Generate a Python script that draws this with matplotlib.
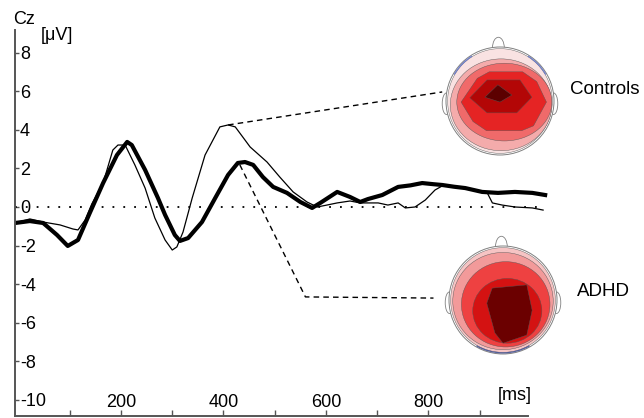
import matplotlib.pyplot as plt
from matplotlib.patches import Ellipse, Polygon, Circle, Arc

plt.rcParams['font.family'] = ['Liberation Sans', 'DejaVu Sans']
plt.rcParams['axes.unicode_minus'] = False

W, H = 644, 418

# ERP at Cz (ms, microvolt)
controls_ms = [-7, 22, 48, 81, 106, 116, 130, 143, 165, 184, 194, 208, 227, 247, 266, 286,
               300, 309, 321, 339, 364, 393, 409, 423, 442, 452, 485, 510, 536, 563, 583,
               602, 622, 647, 667, 702, 721, 741, 755, 774, 794, 813, 827, 850, 872, 895,
               915, 925, 944, 969, 1003, 1024]
controls_uv = [-0.83, -0.62, -0.78, -0.93, -1.14, -1.19, -0.67, 0.16, 1.24, 2.95, 3.21, 3.21,
               2.18, 0.98, -0.57, -1.71, -2.23, -2.07, -1.30, 0.47, 2.69, 4.15, 4.25, 4.15,
               3.47, 3.11, 2.33, 1.55, 0.78, 0.26, 0.0, 0.10, 0.21, 0.31, 0.21, 0.21, 0.10,
               0.21, -0.05, 0.0, 0.36, 0.88, 1.09, 1.05, 0.98, 0.85, 0.73, 0.21, 0.10, 0.0,
               -0.05, -0.16]

adhd_ms = [-7, 22, 48, 75, 96, 116, 139, 165, 192, 212, 221, 247, 272, 286, 305, 315, 331,
           358, 384, 409, 428, 442, 458, 477, 497, 524, 550, 573, 589, 622, 647, 667, 682,
           710, 741, 765, 788, 810, 827, 850, 872, 905, 936, 969, 1003, 1028]
adhd_uv = [-0.83, -0.73, -0.83, -1.45, -2.02, -1.71, -0.31, 1.24, 2.69, 3.37, 3.21, 1.92,
           0.47, -0.41, -1.45, -1.76, -1.61, -0.78, 0.47, 1.66, 2.28, 2.33, 2.18, 1.55, 1.04,
           0.73, 0.26, -0.05, 0.21, 0.78, 0.52, 0.26, 0.41, 0.62, 1.04, 1.12, 1.24, 1.18,
           1.14, 1.05, 0.98, 0.78, 0.73, 0.78, 0.73, 0.62]

yticks = list(range(-10, 9, 2))
xticks = list(range(100, 1000, 100))
xticklabels = ['' if t % 200 else str(t) for t in xticks]

# dashed links from the peaks to the maps
controls_link_ms = [409, 827]
controls_link_uv = [4.25, 5.96]
adhd_link_ms = [432, 560, 810]
adhd_link_uv = [2.18, -4.66, -4.72]

# scalp maps, head radius = 1: (shape, geometry, colour)
controls_topo = [
    ('ellipse', (0.0, 0.0, 0.97, 0.97), '#f9e2e2'),
    ('ellipse', (0.02, -0.07, 0.94, 0.85), '#f4abab'),
    ('ellipse', (0.08, -0.02, 0.88, 0.72), '#f06a6a'),
    ('poly', [(-0.72, -0.02), (-0.42, 0.42), (-0.2, 0.54), (0.42, 0.54), (0.68, 0.36),
              (0.86, -0.02), (0.62, -0.46), (0.4, -0.55), (-0.25, -0.55), (-0.5, -0.38)], '#e52424'),
    ('poly', [(-0.56, 0.06), (-0.24, 0.39), (0.37, 0.39), (0.59, 0.07), (0.31, -0.22), (-0.24, -0.22)], '#b30606'),
    ('poly', [(-0.28, 0.07), (-0.04, 0.30), (0.22, 0.11), (0.0, -0.02)], '#5c0000'),
]
adhd_topo = [
    ('ellipse', (0.0, 0.0, 0.97, 0.97), '#f6c4c4'),
    ('ellipse', (0.0, -0.02, 0.93, 0.9), '#f29a9a'),
    ('ellipse', (0.05, -0.08, 0.82, 0.79), '#ee4141'),
    ('ellipse', (0.08, -0.2, 0.64, 0.6), '#d41212'),
    ('poly', [(-0.2, 0.22), (0.44, 0.28), (0.54, -0.19), (0.44, -0.65), (0.0, -0.8), (-0.15, -0.61), (-0.3, -0.06)], '#6b0000'),
]


def draw_head(cx, cy, r, topo, blue_arcs):
    half = 1.35 * r
    hx = fig.add_axes([(cx - half) / W, 1 - (cy + half) / H, 2 * half / W, 2 * half / H])
    hx.set_xlim(-1.35, 1.35)
    hx.set_ylim(-1.35, 1.35)
    hx.axis('off')
    edge = '#808080'
    # nose and ears
    hx.add_patch(Ellipse((-0.03, 0.98), 0.22, 0.4, facecolor='white', edgecolor=edge, lw=0.6))
    for sx in (-1, 1):
        hx.add_patch(Ellipse((sx * 0.99, -0.05), 0.16, 0.4, facecolor='white', edgecolor=edge, lw=0.6))
    hx.add_patch(Circle((0, 0), 1.0, facecolor='white', edgecolor='none'))
    for shape, geom, col in topo:
        if shape == 'ellipse':
            x0, y0, rx, ry = geom
            p = Ellipse((x0, y0), 2 * rx, 2 * ry)
        else:
            p = Polygon(geom, closed=True)
        p.set_facecolor(col)
        p.set_edgecolor('#555555')
        p.set_linewidth(0.3)
        hx.add_patch(p)
    hx.add_patch(Circle((0, 0), 1.0, facecolor='none', edgecolor=edge, lw=0.7))
    for t1, t2, col in blue_arcs:
        hx.add_patch(Arc((0, 0), 1.96, 1.96, theta1=t1, theta2=t2, color=col, lw=0.9, alpha=0.8))


fig = plt.figure(figsize=(W / 100, H / 100), dpi=100)
ax = fig.add_axes([15 / W, 1 - 416 / H, 545 / W, 386 / H])
ax.set_xlim(-7, 1057)
ax.set_ylim(-10.83, 9.17)
ax.patch.set_alpha(0)

ax.hlines(0, -7, 1028, colors='black', linestyles=(0, (1, 5)), lw=1.3)
ax.plot(controls_ms, controls_uv, color='black', lw=0.9)
ax.plot(adhd_ms, adhd_uv, color='black', lw=3.0, solid_joinstyle='round')
ax.plot(controls_link_ms, controls_link_uv, color='black', lw=1.0, ls=(0, (4, 3)))
ax.plot(adhd_link_ms, adhd_link_uv, color='black', lw=1.0, ls=(0, (4, 3)))

for side in ('top', 'right'):
    ax.spines[side].set_visible(False)
for side in ('left', 'bottom'):
    ax.spines[side].set_color('#555555')
    ax.spines[side].set_linewidth(1.4)
ax.spines['bottom'].set_bounds(-7, 995)

ax.set_yticks(yticks)
ax.set_yticklabels([str(v) for v in yticks])
ax.tick_params(axis='y', direction='in', length=3, width=1, color='#555555', pad=-3.5, labelsize=13)
for lab in ax.get_yticklabels():
    lab.set_horizontalalignment('left')

ax.set_xticks(xticks)
ax.set_xticklabels(xticklabels)
ax.tick_params(axis='x', direction='in', length=4, width=1, color='#555555', pad=-3.6, labelsize=13)
for lab in ax.get_xticklabels():
    lab.set_verticalalignment('bottom')

fig.text(13 / W, 1 - 20 / H, 'Cz', fontsize=13, va='center', ha='left')
fig.text(41 / W, 1 - 36 / H, '[μV]', fontsize=13, va='center', ha='left')
fig.text(498 / W, 1 - 396 / H, '[ms]', fontsize=13, va='center', ha='left')
fig.text(570 / W, 1 - 90 / H, 'Controls', fontsize=13.5, va='center', ha='left')
fig.text(577 / W, 1 - 291 / H, 'ADHD', fontsize=13.5, va='center', ha='left')

draw_head(500, 101, 54, controls_topo, [(122, 150, '#5468c8'), (30, 58, '#5468c8')])
draw_head(503, 300, 54, adhd_topo, [(240, 300, '#34408a')])

fig.savefig('out.png', dpi=100)
